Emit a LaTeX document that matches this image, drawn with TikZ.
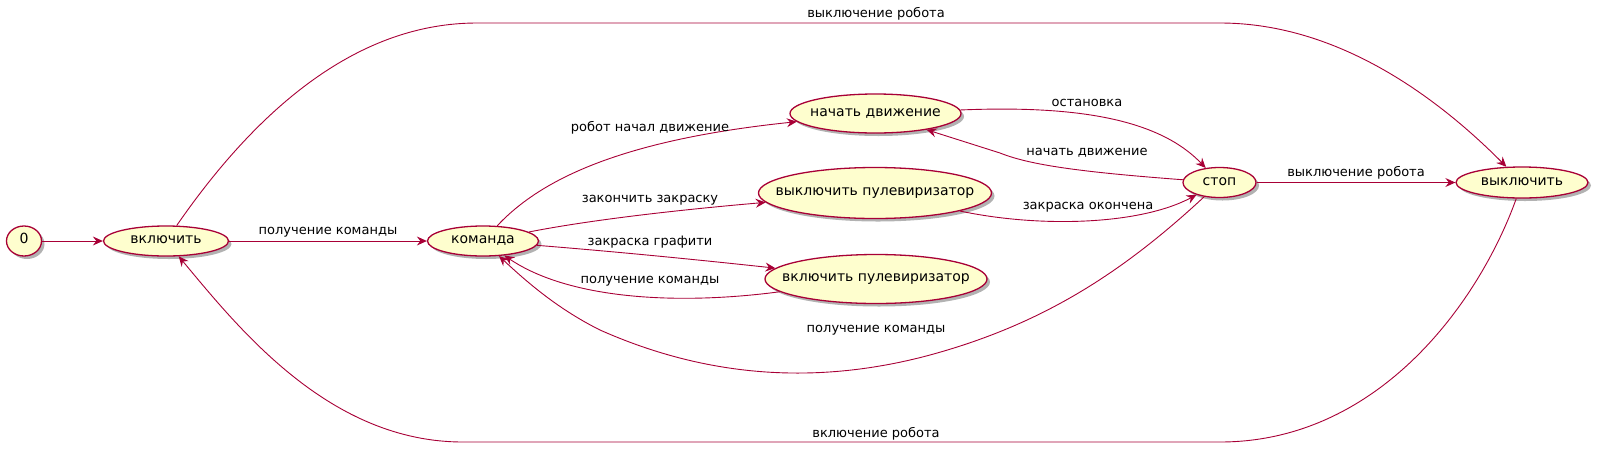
\documentclass[tikz,border=0pt]{standalone}
\usepackage{fontspec}
\setmainfont{DejaVu Sans}
\usepackage{xcolor}
\usepackage{tikz}
\usetikzlibrary{shapes.geometric,arrows.meta,shadows}
\definecolor{umlred}{HTML}{A80036}
\definecolor{umlfill}{HTML}{FEFECE}
% state text that does not widen the ellipse
\newcommand{\stxt}[1]{\makebox[0pt]{#1}}

\begin{document}
\begin{tikzpicture}[x=1pt,y=-1pt,
  sta/.style={ellipse,draw=umlred,fill=umlfill,line width=1.3pt,inner sep=0pt,minimum height=30pt,
    font=\fontsize{14}{16}\selectfont,text height=8pt,text depth=3pt,
    drop shadow={shadow xshift=3pt,shadow yshift=-3pt,opacity=0.3,fill=black}},
  tr/.style={draw=umlred,line width=0.9pt,-{Stealth[length=10pt,width=9pt,inset=3.5pt]}},
  lbl/.style={font=\fontsize{13}{15}\selectfont,inner sep=0pt,text height=7pt,text depth=3pt}
]
  \useasboundingbox (0,0) rectangle (1599,448);
  % states
  \node[sta,minimum width=35pt] (n0) at (24,241) {\stxt{0}};
  \node[sta,minimum width=125pt] (vkl) at (166,241) {\stxt{включить}};
  \node[sta,minimum width=111pt] (kom) at (483,241) {\stxt{команда}};
  \node[sta,minimum width=171pt,minimum height=39pt] (nach) at (875.5,113.5) {\stxt{начать движение}};
  \node[sta,minimum width=233pt,minimum height=51pt] (vpul) at (875,193) {\stxt{выключить пулевиризатор}};
  \node[sta,minimum width=222pt,minimum height=49pt] (ipul) at (876,279) {\stxt{включить пулевиризатор}};
  \node[sta,minimum width=73pt] (stop) at (1219.5,182.5) {\stxt{стоп}};
  \node[sta,minimum width=132pt,minimum height=31pt] (vykl) at (1522,182.5) {\stxt{выключить}};
  % transitions
  \draw[tr] (n0) -- (vkl);
  \draw[tr] (vkl) -- node[lbl,above=3pt] (l2) {получение команды} (kom);
  \draw[tr] (vkl) .. controls (260,105) and (360,23) .. (477,23) -- (1220,23)
    node[lbl] (l3) at (876,15) {выключение робота}
    .. controls (1340,23) and (1440,100) .. (vykl);
  \draw[tr] (vykl) .. controls (1480,300) and (1380,442) .. (1220,442) -- (463,442)
    node[lbl] (l4) at (876,435) {включение робота}
    .. controls (330,442) and (240,330) .. (vkl);
  \draw[tr] (kom) .. controls (540,180) and (620,140) .. (nach)
    node[lbl] (l5) at (650,129) {робот начал движение};
  \draw[tr] (kom) .. controls (600,218) and (700,208) .. (vpul)
    node[lbl] (l6) at (650,200) {закончить закраску};
  \draw[tr] (kom) .. controls (620,252) and (700,260) .. (ipul)
    node[lbl] (l7) at (650,243) {закраска графити};
  \draw[tr] (ipul) .. controls (680,305) and (570,300) .. (kom)
    node[lbl] (l8) at (650,281) {получение команды};
  \draw[tr] (nach) .. controls (1080,105) and (1160,120) .. (stop)
    node[lbl] (l9) at (1087,104) {остановка};
  \draw[tr] (stop) .. controls (1080,172) and (1030,165) .. (1000,153) -- (nach)
    node[lbl] (l10) at (1087,153) {начать движение};
  \draw[tr] (vpul) .. controls (1040,228) and (1140,225) .. (stop)
    node[lbl] (l11) at (1088,207) {закраска окончена};
  \draw[tr] (stop) .. controls (1120,275) and (1040,325) .. (930,355)
    .. controls (800,390) and (690,370) .. (600,330)
    .. controls (560,310) and (530,285) .. (kom)
    node[lbl] (l12) at (876,330) {получение команды};
  \draw[tr] (stop) -- node[lbl,above=3pt] (l13) {выключение робота} (vykl);
\end{tikzpicture}
\end{document}
